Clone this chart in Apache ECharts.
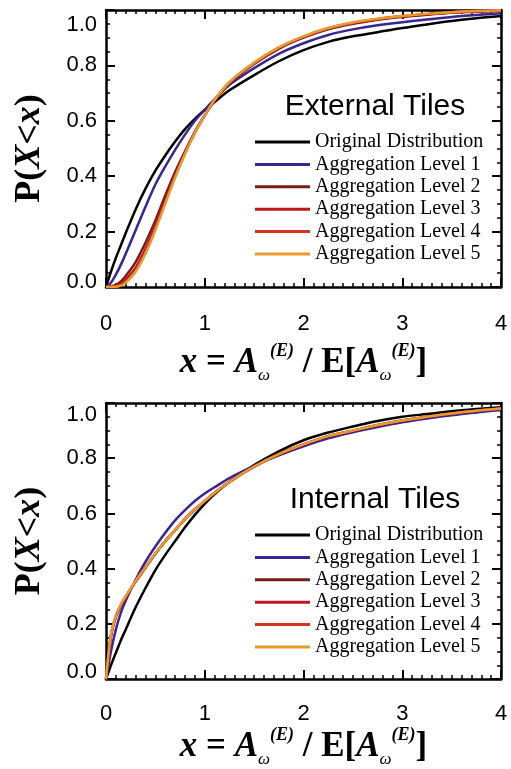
<!DOCTYPE html>
<html>
<head>
<meta charset="utf-8">
<script src="https://cdn.jsdelivr.net/npm/echarts@6/dist/echarts.min.js"></script>
<style>
html, body { margin: 0; padding: 0; background: #fff; }
#main { width: 511px; height: 769px; }
</style>
</head>
<body>
<div id="main"></div>
<script>
var xs = [0, 0.05, 0.1, 0.15, 0.2, 0.3, 0.4, 0.5, 0.6, 0.7, 0.8, 0.9, 1.0, 1.1, 1.25, 1.5, 1.75, 2.0, 2.25, 2.5, 2.75, 3.0, 3.25, 3.5, 3.75, 4.0];

var seriesNames = ['Original Distribution', 'Aggregation Level 1', 'Aggregation Level 2',
    'Aggregation Level 3', 'Aggregation Level 4', 'Aggregation Level 5'];
var seriesColors = ['#000000', '#3a2496', '#7a1c1c', '#c0161e', '#d2341c', '#e99a2c'];

// External tiles
var extOriginal = [0, 0.055, 0.105, 0.15, 0.195, 0.28, 0.355, 0.42, 0.475, 0.525, 0.57, 0.607, 0.64, 0.668, 0.71, 0.765, 0.815, 0.855, 0.885, 0.905, 0.92, 0.935, 0.948, 0.96, 0.97, 0.978];
var extLevel1 = [0, 0.015, 0.045, 0.08, 0.12, 0.205, 0.29, 0.37, 0.435, 0.495, 0.55, 0.6, 0.64, 0.678, 0.73, 0.79, 0.842, 0.88, 0.91, 0.93, 0.945, 0.956, 0.966, 0.975, 0.982, 0.988];
var extLevel2 = [0, 0.002, 0.008, 0.02, 0.04, 0.09, 0.16, 0.24, 0.33, 0.415, 0.49, 0.56, 0.62, 0.672, 0.735, 0.805, 0.86, 0.9, 0.93, 0.95, 0.965, 0.975, 0.983, 0.99, 0.994, 0.997];
var extLevel3 = [0, 0.001, 0.004, 0.012, 0.027, 0.07, 0.137, 0.22, 0.312, 0.402, 0.484, 0.558, 0.62, 0.674, 0.737, 0.808, 0.863, 0.903, 0.933, 0.953, 0.967, 0.977, 0.985, 0.991, 0.995, 0.998];
var extLevel4 = [0, 0.0005, 0.002, 0.008, 0.02, 0.062, 0.128, 0.212, 0.306, 0.398, 0.482, 0.557, 0.62, 0.675, 0.738, 0.809, 0.864, 0.904, 0.934, 0.954, 0.968, 0.978, 0.986, 0.992, 0.996, 0.998];
var extLevel5 = [0, 0, 0.001, 0.005, 0.015, 0.055, 0.12, 0.205, 0.3, 0.395, 0.48, 0.556, 0.62, 0.676, 0.74, 0.81, 0.865, 0.905, 0.935, 0.955, 0.968, 0.978, 0.986, 0.992, 0.996, 0.999];

// Internal tiles
var intOriginal = [0, 0.05, 0.095, 0.14, 0.18, 0.26, 0.33, 0.395, 0.45, 0.5, 0.55, 0.595, 0.635, 0.67, 0.715, 0.775, 0.825, 0.865, 0.893, 0.915, 0.935, 0.95, 0.96, 0.97, 0.978, 0.985];
var intLevel1 = [0, 0.1, 0.18, 0.24, 0.285, 0.36, 0.425, 0.48, 0.53, 0.575, 0.612, 0.645, 0.672, 0.695, 0.728, 0.772, 0.81, 0.843, 0.872, 0.894, 0.913, 0.93, 0.944, 0.956, 0.966, 0.975];
var intLevel2 = [0, 0.155, 0.225, 0.265, 0.297, 0.353, 0.403, 0.454, 0.499, 0.539, 0.579, 0.614, 0.644, 0.674, 0.714, 0.769, 0.814, 0.849, 0.879, 0.899, 0.919, 0.936, 0.949, 0.961, 0.971, 0.979];
var intLevel3 = [0, 0.157, 0.227, 0.267, 0.298, 0.354, 0.404, 0.454, 0.5, 0.54, 0.58, 0.615, 0.645, 0.675, 0.715, 0.77, 0.815, 0.85, 0.88, 0.9, 0.92, 0.937, 0.95, 0.962, 0.972, 0.98];
var intLevel4 = [0, 0.158, 0.228, 0.268, 0.299, 0.355, 0.405, 0.455, 0.5, 0.54, 0.58, 0.615, 0.645, 0.675, 0.715, 0.77, 0.815, 0.85, 0.88, 0.9, 0.92, 0.937, 0.95, 0.962, 0.972, 0.98];
var intLevel5 = [0, 0.16, 0.23, 0.27, 0.3, 0.355, 0.405, 0.455, 0.5, 0.54, 0.58, 0.615, 0.645, 0.675, 0.715, 0.77, 0.815, 0.85, 0.88, 0.9, 0.92, 0.937, 0.95, 0.962, 0.972, 0.98];

var extData = [extOriginal, extLevel1, extLevel2, extLevel3, extLevel4, extLevel5];
var intData = [intOriginal, intLevel1, intLevel2, intLevel3, intLevel4, intLevel5];

var panelTitles = ['External Tiles', 'Internal Tiles'];

var myChart = echarts.init(document.getElementById('main'));

var sans = 'Liberation Sans, Arial, sans-serif';
var serif = 'Liberation Serif, Times New Roman, serif';

var xName = '{bi|x}{b| = }{bi|A}{sub|ω}{sup|(E)}{b| / E[}{bi|A}{sub|ω}{sup|(E)}{b|]}';
var xNameRich = {
    b: {fontFamily: serif, fontWeight: 'bold', fontSize: 35, lineHeight: 42, color: '#000'},
    bi: {fontFamily: serif, fontWeight: 'bold', fontStyle: 'italic', fontSize: 35, lineHeight: 42, color: '#000'},
    sub: {fontFamily: serif, fontStyle: 'italic', fontSize: 17, lineHeight: 17, verticalAlign: 'bottom', color: '#000'},
    sup: {fontFamily: serif, fontWeight: 'bold', fontStyle: 'italic', fontSize: 18, lineHeight: 18, verticalAlign: 'top', color: '#000'}
};
var yName = '{b|P(}{bi|X}{b|<}{bi|x}{b|)}';
var yNameRich = {
    b: {fontFamily: serif, fontWeight: 'bold', fontSize: 36, color: '#000'},
    bi: {fontFamily: serif, fontWeight: 'bold', fontStyle: 'italic', fontSize: 36, color: '#000'}
};

function makeX(grid, top, gap) {
    return {
        gridIndex: grid, type: 'value', min: 0, max: 4, interval: 1,
        position: top ? 'top' : 'bottom',
        axisLine: {show: true, onZero: false, lineStyle: {color: '#000', width: 2.5}},
        axisTick: {show: true, inside: true, length: 9, lineStyle: {color: '#000', width: 2}},
        minorTick: {show: true, splitNumber: 10, length: 4, lineStyle: {color: '#000', width: 1.5}},
        splitLine: {show: false},
        axisLabel: {show: !top, margin: gap, fontSize: 22, fontFamily: sans, color: '#000'},
        name: top ? '' : xName,
        nameLocation: 'middle',
        nameGap: grid === 0 ? 55 : 45,
        nameTextStyle: {rich: xNameRich}
    };
}

function makeY(grid, right) {
    return {
        gridIndex: grid, type: 'value', min: 0, max: 1, interval: 0.2,
        position: right ? 'right' : 'left',
        axisLine: {show: true, onZero: false, lineStyle: {color: '#000', width: 2.5}},
        axisTick: {show: true, inside: true, length: 9, lineStyle: {color: '#000', width: 2}},
        minorTick: {show: true, splitNumber: 4, length: 4, lineStyle: {color: '#000', width: 1.5}},
        splitLine: {show: false},
        axisLabel: {
            show: !right, margin: 9, fontSize: 22, fontFamily: sans, color: '#000',
            formatter: function (v) {
                var s = v.toFixed(1);
                if (Math.abs(v - 1) < 1e-9) return '{hi|' + s + '}';
                if (Math.abs(v) < 1e-9) return '{lo|' + s + '}';
                return s;
            },
            rich: {
                hi: {fontSize: 22, fontFamily: sans, color: '#000', padding: [grid === 0 ? 30 : 24, 0, 0, 0]},
                lo: {fontSize: 22, fontFamily: sans, color: '#000', padding: [0, 0, grid === 0 ? 10 : 14, 0]}
            }
        },
        name: right ? '' : yName,
        nameLocation: 'middle',
        nameRotate: 90,
        nameGap: 58,
        nameTextStyle: {rich: yNameRich}
    };
}

var series = [];
[extData, intData].forEach(function (panel, g) {
    panel.forEach(function (ys, k) {
        series.push({
            name: seriesNames[k],
            type: 'line',
            xAxisIndex: g * 2,
            yAxisIndex: g * 2,
            data: xs.map(function (x, i) { return [x, ys[i]]; }),
            smooth: 0.3,
            showSymbol: false,
            color: seriesColors[k],
            lineStyle: {width: 2.5, color: seriesColors[k]},
            z: 2 + k
        });
    });
});

function makeLegend(top) {
    return {
        data: seriesNames, orient: 'vertical', left: 255, top: top, padding: 0,
        icon: 'rect', itemWidth: 55, itemHeight: 3, itemGap: 2.4,
        selectedMode: false,
        textStyle: {fontFamily: serif, fontSize: 20, lineHeight: 20, color: '#000'}
    };
}

function makeTitle(text, y) {
    return {
        type: 'text', x: 375, y: y, z: 10,
        style: {
            text: text, fill: '#000', font: '30px ' + sans,
            align: 'center', verticalAlign: 'middle',
            textAlign: 'center', textVerticalAlign: 'middle'
        }
    };
}

var option = {
    animation: false,
    backgroundColor: '#fff',
    grid: [
        {left: 106, right: 10, top: 10, height: 277},
        {left: 106, right: 10, top: 403, height: 278}
    ],
    xAxis: [makeX(0, false, 26), makeX(0, true, 26), makeX(1, false, 24), makeX(1, true, 24)],
    yAxis: [makeY(0, false), makeY(0, true), makeY(1, false), makeY(1, true)],
    legend: [makeLegend(132), makeLegend(525)],
    graphic: [makeTitle(panelTitles[0], 107), makeTitle(panelTitles[1], 500)],
    series: series
};

myChart.setOption(option);
</script>
</body>
</html>
